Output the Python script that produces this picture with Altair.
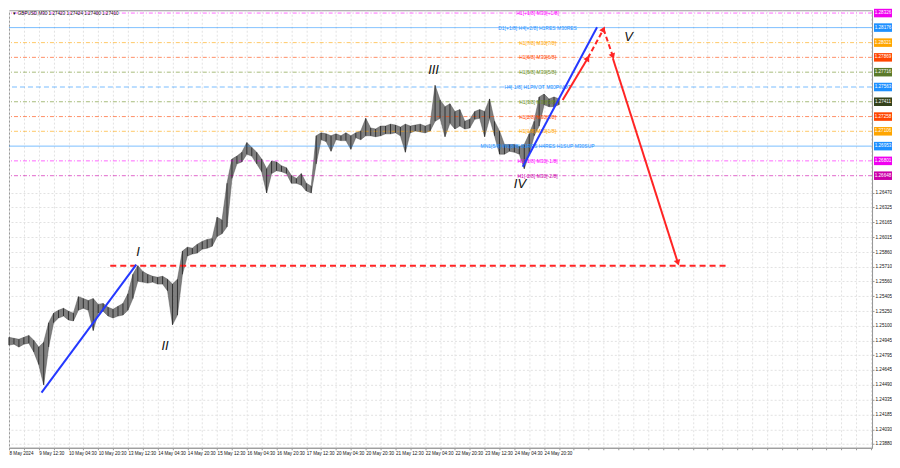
import altair as alt
import pandas as pd

# ---------------- data ----------------
# GBPUSD M30 price, sampled every 16/3 bars (high / low of each sample)
hi = [1.2498, 1.2497, 1.2496, 1.2498, 1.2500, 1.2495, 1.2488, 1.2493, 1.2513, 1.2523,
      1.2526, 1.2528, 1.2525, 1.2523, 1.2540, 1.2538, 1.2536, 1.2538, 1.2532, 1.2533,
      1.2529, 1.2527, 1.2530, 1.2533, 1.2543, 1.2563, 1.2572, 1.2566, 1.2563, 1.2561,
      1.2560, 1.2561, 1.2558, 1.2553, 1.2558, 1.2587, 1.2591, 1.2590, 1.2594, 1.2597,
      1.2599, 1.2600, 1.2622, 1.2619, 1.2657, 1.2682, 1.2685, 1.2689, 1.2699, 1.2694,
      1.2689, 1.2682, 1.2672, 1.2680, 1.2679, 1.2675, 1.2673, 1.2665, 1.2662, 1.2667,
      1.2657, 1.2654, 1.2706, 1.2709, 1.2708, 1.2706, 1.2708, 1.2706, 1.2709, 1.2706,
      1.2709, 1.2711, 1.2724, 1.2714, 1.2713, 1.2716, 1.2716, 1.2718, 1.2717, 1.2715,
      1.2718, 1.2716, 1.2717, 1.2718, 1.2716, 1.2718, 1.2758, 1.2743, 1.2736, 1.2739,
      1.2731, 1.2733, 1.2721, 1.2723, 1.2731, 1.2733, 1.2731, 1.2744, 1.2721, 1.2711,
      1.2697, 1.2697, 1.2697, 1.2695, 1.2697, 1.2708, 1.2721, 1.2746, 1.2749, 1.2744,
      1.2746, 1.2744]
lo = [1.2490, 1.2491, 1.2488, 1.2491, 1.2492, 1.2483, 1.2470, 1.2449, 1.2488, 1.2513,
      1.2518, 1.2520, 1.2516, 1.2515, 1.2526, 1.2528, 1.2526, 1.2505, 1.2523, 1.2525,
      1.2520, 1.2518, 1.2520, 1.2521, 1.2526, 1.2538, 1.2556, 1.2555, 1.2554, 1.2555,
      1.2553, 1.2553, 1.2546, 1.2511, 1.2521, 1.2563, 1.2582, 1.2584, 1.2585, 1.2589,
      1.2590, 1.2592, 1.2602, 1.2605, 1.2612, 1.2662, 1.2677, 1.2679, 1.2687, 1.2685,
      1.2677, 1.2669, 1.2647, 1.2667, 1.2670, 1.2669, 1.2667, 1.2657, 1.2657, 1.2655,
      1.2649, 1.2647, 1.2677, 1.2702, 1.2700, 1.2690, 1.2702, 1.2701, 1.2701, 1.2692,
      1.2704, 1.2702, 1.2706, 1.2706, 1.2705, 1.2706, 1.2708, 1.2708, 1.2709, 1.2706,
      1.2689, 1.2709, 1.2711, 1.2710, 1.2709, 1.2711, 1.2721, 1.2724, 1.2705, 1.2719,
      1.2713, 1.2716, 1.2713, 1.2714, 1.2723, 1.2724, 1.2705, 1.2724, 1.2706, 1.2687,
      1.2687, 1.2690, 1.2689, 1.2687, 1.2672, 1.2687, 1.2706, 1.2716, 1.2738, 1.2736,
      1.2736, 1.2738]
bar = [round(i * 16 / 3, 3) for i in range(len(hi))]

time_labels = ["8 May 2024", "9 May 12:30", "10 May 04:30", "10 May 20:30", "13 May 12:30",
               "14 May 04:30", "14 May 20:30", "15 May 12:30", "16 May 04:30", "16 May 20:30",
               "17 May 12:30", "20 May 04:30", "20 May 20:30", "21 May 12:30", "22 May 04:30",
               "22 May 20:30", "23 May 12:30", "24 May 04:30", "24 May 20:30"]

price_ticks = [1.26470, 1.26325, 1.26165, 1.26015, 1.25860, 1.25710, 1.25560, 1.25405, 1.25250,
               1.25100, 1.24945, 1.24795, 1.24645, 1.24490, 1.24335, 1.24185, 1.24030, 1.23880]

level_price = [1.28326, 1.28176, 1.28021, 1.27869, 1.27716, 1.27563, 1.27411, 1.27258,
               1.27106, 1.26953, 1.26801, 1.26648]
level_text = ["H1[+1/8] M30[+1/8]", "D1[+1/8] H4[+2/8] H1RES M30RES", "H1[7/8] M30[7/8]",
              "H1[6/8] M30[6/8]", "H1[5/8] M30[5/8]", "H4[-1/8] H1PIVOT M30PIVOT",
              "H1[3/8] M30[3/8]", "H1[2/8] M30[2/8]", "H1[1/8] M30[1/8]",
              "MN1[5/8] W1[5/8] D1RES H4RES H1SUP M30SUP", "H1[-1/8] M30[-1/8]",
              "H1[-2/8] M30[-2/8]"]
level_color = ["#ff00ff", "#1e90ff", "#ffa500", "#ff4500", "#6b8e23", "#1e90ff",
               "#6b8e23", "#ff4500", "#ffa500", "#1e90ff", "#ff00ff", "#cc00aa"]
level_box = ["#f000f0", "#1e90ff", "#ffa500", "#ff4500", "#5b7a2a", "#1e90ff",
             "#34421c", "#ff4500", "#ffa500", "#1e90ff", "#f000f0", "#cc00aa"]
level_style = ["dashdot", "solid", "dashdot", "dashdot", "dashdot", "dash",
               "dashdot", "dashdot", "dashdot", "solid", "dashdot", "dashdot"]
level_text_bar = 569

blue_seg = ["a", "a", "b", "b"]
blue_bar = [35, 137, 553, 633]
blue_price = [1.2441, 1.2573, 1.2674, 1.2818]

red_solid_seg = ["a", "a", "d", "d"]
red_solid_bar = [596, 623, 650, 720]
red_solid_price = [1.2743, 1.2786, 1.2786, 1.2575]
red_dash_seg = ["b", "b", "c", "c"]
red_dash_bar = [623, 640, 640, 650]
red_dash_price = [1.2786, 1.2816, 1.2816, 1.2788]
arrow_bar = [623, 640, 650, 720]
arrow_price = [1.2786, 1.2816, 1.2788, 1.2575]
arrow_angle = [30, 28, 160, 163]

hline_bar = [109, 773]
hline_price = 1.2572

wave_text = ["I", "II", "III", "IV", "V"]
wave_bar = [139, 168, 457, 550, 667]
wave_price = [1.2586, 1.2489, 1.2774, 1.2656, 1.2808]

title_text = "\u25bc GBPUSD,M30  1.27423 1.27424 1.27400 1.27410"

# ---------------- chart ----------------
W, H = 864, 438
FONT = "Liberation Sans"
xs = alt.Scale(domain=[0, 929], nice=False, zero=False)
ys = alt.Scale(domain=[1.23841, 1.28355], nice=False, zero=False)

arr = "[" + ",".join("'" + s + "'" for s in time_labels) + "]"
x_axis = alt.Axis(values=list(range(0, 930, 16)),
                  labelExpr=f"(datum.value % 32 == 0 && datum.value / 32 < {len(time_labels)}) ? {arr}[datum.value / 32] : ''",
                  labelAlign="left", labelFontSize=4.6, labelFont=FONT, labelColor="#111",
                  tickSize=2, tickColor="#999", domainColor="#999", gridColor="#e2e2e2",
                  gridDash=[2, 2], grid=True, title=None, labelPadding=1, labelOverlap=False,
                  labelFlush=False)
y_axis = alt.Axis(orient="right", values=price_ticks, format=".5f", labelFontSize=4.6,
                  labelFont=FONT, labelColor="#111", tickSize=2, tickColor="#999",
                  domainColor="#999", gridColor="#e2e2e2", gridDash=[2, 2], grid=True, title=None,
                  labelPadding=1, labelOverlap=False, labelFlush=False)

px = pd.DataFrame({"bar": bar, "hi": hi, "lo": lo})
candles_area = alt.Chart(px).mark_area(color="#555555", opacity=0.75, stroke="#1a1a1a",
                                       strokeWidth=0.5, interpolate="linear").encode(
    x=alt.X("bar:Q", scale=xs, axis=x_axis),
    y=alt.Y("lo:Q", scale=ys, axis=y_axis),
    y2="hi:Q",
)
candles_rule = alt.Chart(px).mark_rule(color="#111", strokeWidth=0.7).encode(
    x=alt.X("bar:Q", scale=xs, axis=None),
    y=alt.Y("lo:Q", scale=ys, axis=None),
    y2="hi:Q",
)

lev = pd.DataFrame({"price": level_price, "text": level_text, "color": level_color,
                    "box": level_box, "style": level_style, "tb": [level_text_bar] * len(level_price)})
lev_rules = alt.Chart(lev).mark_rule(strokeWidth=1, opacity=0.6).encode(
    y=alt.Y("price:Q", scale=ys, axis=None),
    color=alt.Color("color:N", scale=None),
    strokeDash=alt.StrokeDash("style:N", scale=alt.Scale(domain=["solid", "dash", "dashdot"],
                                                         range=[[1, 0], [5, 3], [4, 2, 1, 2]]),
                              legend=None),
)
lev_texts = alt.Chart(lev).mark_text(fontSize=5, font=FONT, baseline="middle", align="center").encode(
    x=alt.X("tb:Q", scale=xs, axis=None),
    y=alt.Y("price:Q", scale=ys, axis=None),
    text="text:N",
    color=alt.Color("color:N", scale=None),
)
lev_boxes = alt.Chart(lev).transform_calculate(
    top="datum.price + 0.00044", bot="datum.price - 0.00044"
).mark_rect().encode(
    x=alt.value(W + 2), x2=alt.value(W + 20),
    y=alt.Y("top:Q", scale=ys, axis=None), y2="bot:Q",
    color=alt.Color("box:N", scale=None),
)
lev_box_text = alt.Chart(lev).mark_text(fontSize=4.6, font=FONT, color="white",
                                        baseline="middle", align="center").encode(
    x=alt.value(W + 11),
    y=alt.Y("price:Q", scale=ys, axis=None),
    text=alt.Text("price:Q", format=".5f"),
)

hline = alt.Chart(pd.DataFrame({"x0": [hline_bar[0]], "x1": [hline_bar[1]], "p": [hline_price]})).mark_rule(
    color="#ff2424", strokeWidth=2, strokeDash=[6, 4]).encode(
    x=alt.X("x0:Q", scale=xs, axis=None), x2="x1:Q",
    y=alt.Y("p:Q", scale=ys, axis=None),
)

blue = alt.Chart(pd.DataFrame({"seg": blue_seg, "bar": blue_bar, "price": blue_price})).mark_line(
    color="#2438ff", strokeWidth=2).encode(
    x=alt.X("bar:Q", scale=xs, axis=None), y=alt.Y("price:Q", scale=ys, axis=None), detail="seg:N")

red_solid = alt.Chart(pd.DataFrame({"seg": red_solid_seg, "bar": red_solid_bar, "price": red_solid_price})).mark_line(
    color="#ff2424", strokeWidth=2).encode(
    x=alt.X("bar:Q", scale=xs, axis=None), y=alt.Y("price:Q", scale=ys, axis=None), detail="seg:N")
red_dash = alt.Chart(pd.DataFrame({"seg": red_dash_seg, "bar": red_dash_bar, "price": red_dash_price})).mark_line(
    color="#ff2424", strokeWidth=2, strokeDash=[5, 3]).encode(
    x=alt.X("bar:Q", scale=xs, axis=None), y=alt.Y("price:Q", scale=ys, axis=None), detail="seg:N")
arrows = alt.Chart(pd.DataFrame({"bar": arrow_bar, "price": arrow_price, "ang": arrow_angle})).mark_point(
    shape="triangle-up", filled=True, color="#ff2424", size=45, opacity=1).encode(
    x=alt.X("bar:Q", scale=xs, axis=None), y=alt.Y("price:Q", scale=ys, axis=None),
    angle=alt.Angle("ang:Q", scale=None))

waves = alt.Chart(pd.DataFrame({"t": wave_text, "bar": wave_bar, "price": wave_price})).mark_text(
    fontSize=13, font=FONT, fontStyle="italic", color="#111", baseline="middle", align="center").encode(
    x=alt.X("bar:Q", scale=xs, axis=None), y=alt.Y("price:Q", scale=ys, axis=None), text="t:N")

title = alt.Chart(pd.DataFrame({"t": [title_text]})).mark_text(
    fontSize=4.6, font=FONT, color="#111", align="left", baseline="middle").encode(
    x=alt.value(3), y=alt.value(4), text="t:N")

chart = alt.layer(
    candles_area, lev_rules, hline, candles_rule, lev_texts, blue, red_solid, red_dash, arrows,
    waves, lev_boxes, lev_box_text, title
).resolve_axis(x="independent", y="independent").properties(
    width=W, height=H, padding={"left": 0, "top": 0, "right": 0, "bottom": 0}, background="white"
).configure_view(stroke="#999", strokeWidth=1)

chart.save("out.html", embed_options={"renderer": "svg", "actions": False})
